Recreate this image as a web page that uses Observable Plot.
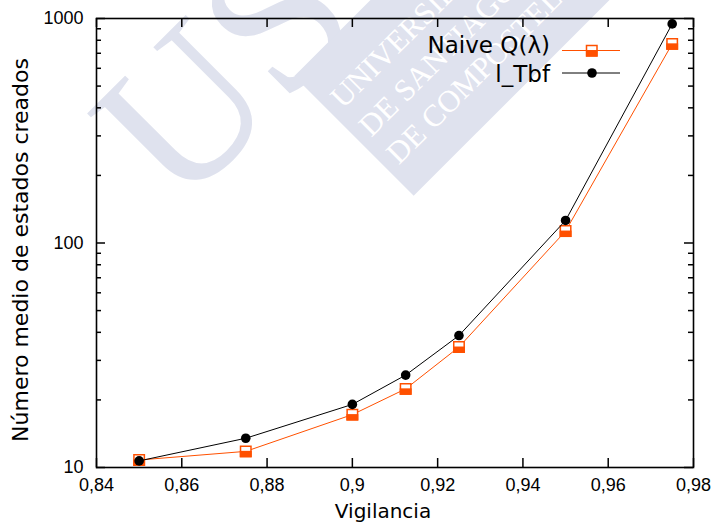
<!DOCTYPE html>
<html>
<head>
<meta charset="utf-8">
<script src="https://cdn.jsdelivr.net/npm/d3@7"></script>
<script src="https://cdn.jsdelivr.net/npm/@observablehq/plot@0.6"></script>
<style>
  html, body { margin: 0; padding: 0; background: white; }
</style>
</head>
<body>
<div id="chart"></div>
<script>
// ---- data ----
const vigilancia = [0.85, 0.875, 0.9, 0.9125, 0.925, 0.95, 0.975];
const naiveQ = [10.8, 11.8, 17.2, 22.4, 34.4, 113, 771];
const lTbf = [10.7, 13.5, 19.1, 25.8, 38.7, 126, 946];
const seriesNames = ["Naive Q(λ)", "l_Tbf"];
const xTicks = [0.84, 0.86, 0.88, 0.9, 0.92, 0.94, 0.96, 0.98];
const yMajor = [10, 100, 1000];
const yMinor = [20, 30, 40, 50, 60, 70, 80, 90, 200, 300, 400, 500, 600, 700, 800, 900];
const xLabel = "Vigilancia";
const yLabel = "Número medio de estados creados";

const naiveData = vigilancia.map((x, i) => ({x, y: naiveQ[i]}));
const tbfData = vigilancia.map((x, i) => ({x, y: lTbf[i]}));

const orange = "#ff5000";
const W = 721, H = 529, mL = 96, mR = 28, mT = 18, mB = 62;
const pw = W - mL - mR, ph = H - mT - mB;

// lower filled part of the square marker
const lowerSquare = {
  draw(context, size) {
    const w = Math.sqrt(size), h = w / 2;
    context.rect(-h - 0.75, -h * 0.1, w + 1.5, h * 1.1 + 0.75);
  }
};

function watermark() {
  const g = d3.create("svg:g").attr("transform", "rotate(-45)")
    .attr("text-anchor", "start")
    .attr("font-family", "'Liberation Serif', 'DejaVu Serif', serif");
  const c = "#dfe2ee";
  g.append("text").attr("x", -23).attr("y", 276).attr("font-size", 205).attr("fill", c).text("US");
  g.append("rect").attr("x", 154).attr("y", 262).attr("width", 700).attr("height", 169).attr("fill", c);
  const lines = ["UNIVERSIDADE", "DE SANTIAGO", "DE COMPOSTELA"];
  const ys = [320, 360, 399];
  lines.forEach((t, i) => g.append("text").attr("x", 165).attr("y", ys[i])
    .attr("font-size", 31).attr("fill", "white").text(t));
  return g.node();
}

function legend() {
  const g = d3.create("svg:g").attr("font-family", "'DejaVu Sans', sans-serif").attr("font-size", 23);
  // Naive
  g.append("text").attr("x", 550).attr("y", 53).attr("text-anchor", "end").text(seriesNames[0]);
  g.append("line").attr("x1", 562).attr("x2", 620).attr("y1", 50.5).attr("y2", 50.5).attr("stroke", orange);
  g.append("rect").attr("x", 586.5).attr("y", 45.5).attr("width", 10.5).attr("height", 10.5)
    .attr("fill", "white").attr("stroke", orange).attr("stroke-width", 1.5);
  g.append("rect").attr("x", 586).attr("y", 50).attr("width", 11.5).attr("height", 6.5).attr("fill", orange);
  // Tbf
  g.append("text").attr("x", 550).attr("y", 82).attr("text-anchor", "end").text(seriesNames[1]);
  g.append("line").attr("x1", 562).attr("x2", 620).attr("y1", 73).attr("y2", 73).attr("stroke", "black");
  g.append("circle").attr("cx", 592).attr("cy", 73).attr("r", 4.8).attr("fill", "black");
  return g.node();
}

const fmtX = d => String(+d.toFixed(3)).replace(".", ",");

const chart = Plot.plot({
  width: W, height: H,
  marginLeft: mL, marginRight: mR, marginTop: mT, marginBottom: mB,
  style: {fontFamily: "'Liberation Sans', Arial, sans-serif", background: "white", color: "black"},
  x: {domain: [0.84, 0.98]},
  y: {type: "log", domain: [10, 1000]},
  marks: [
    watermark,
    Plot.axisX({ticks: xTicks, tickSize: 0, tickPadding: 11, tickFormat: fmtX, label: null, fontSize: 18}),
    Plot.axisY({ticks: yMajor, tickSize: 0, tickPadding: 13, tickFormat: d => String(d), label: null, fontSize: 18}),
    Plot.tickX(xTicks, {x: d => d, insetTop: ph - 9, stroke: "black", strokeWidth: 1.5}),
    Plot.tickX(xTicks, {x: d => d, insetBottom: ph - 9, stroke: "black", strokeWidth: 1.5}),
    Plot.tickY(yMajor, {y: d => d, insetRight: pw - 9, stroke: "black", strokeWidth: 1.5}),
    Plot.tickY(yMajor, {y: d => d, insetLeft: pw - 9, stroke: "black", strokeWidth: 1.5}),
    Plot.tickY(yMinor, {y: d => d, insetRight: pw - 5, stroke: "black", strokeWidth: 1.5}),
    Plot.tickY(yMinor, {y: d => d, insetLeft: pw - 5, stroke: "black", strokeWidth: 1.5}),
    Plot.frame({stroke: "black", strokeWidth: 1.6}),
    Plot.line(naiveData, {x: "x", y: "y", stroke: orange, strokeWidth: 1}),
    Plot.dot(naiveData, {x: "x", y: "y", symbol: "square", r: 5.9, fill: "white", stroke: orange, strokeWidth: 1.5}),
    Plot.dot(naiveData, {x: "x", y: "y", symbol: lowerSquare, r: 5.9, fill: orange}),
    Plot.line(tbfData, {x: "x", y: "y", stroke: "black", strokeWidth: 1}),
    Plot.dot(tbfData, {x: "x", y: "y", r: 4.8, fill: "black"}),
    Plot.text([xLabel], {frameAnchor: "bottom", text: d => d, dx: -12, dy: 44, fontSize: 20,
      fontFamily: "'DejaVu Sans', sans-serif", lineAnchor: "middle", textAnchor: "middle"}),
    Plot.text([yLabel], {frameAnchor: "left", text: d => d, dx: -76, dy: 7, rotate: -90, fontSize: 22,
      fontFamily: "'DejaVu Sans', sans-serif", lineAnchor: "middle", textAnchor: "middle"}),
    legend
  ]
});
document.getElementById("chart").append(chart);
</script>
</body>
</html>
